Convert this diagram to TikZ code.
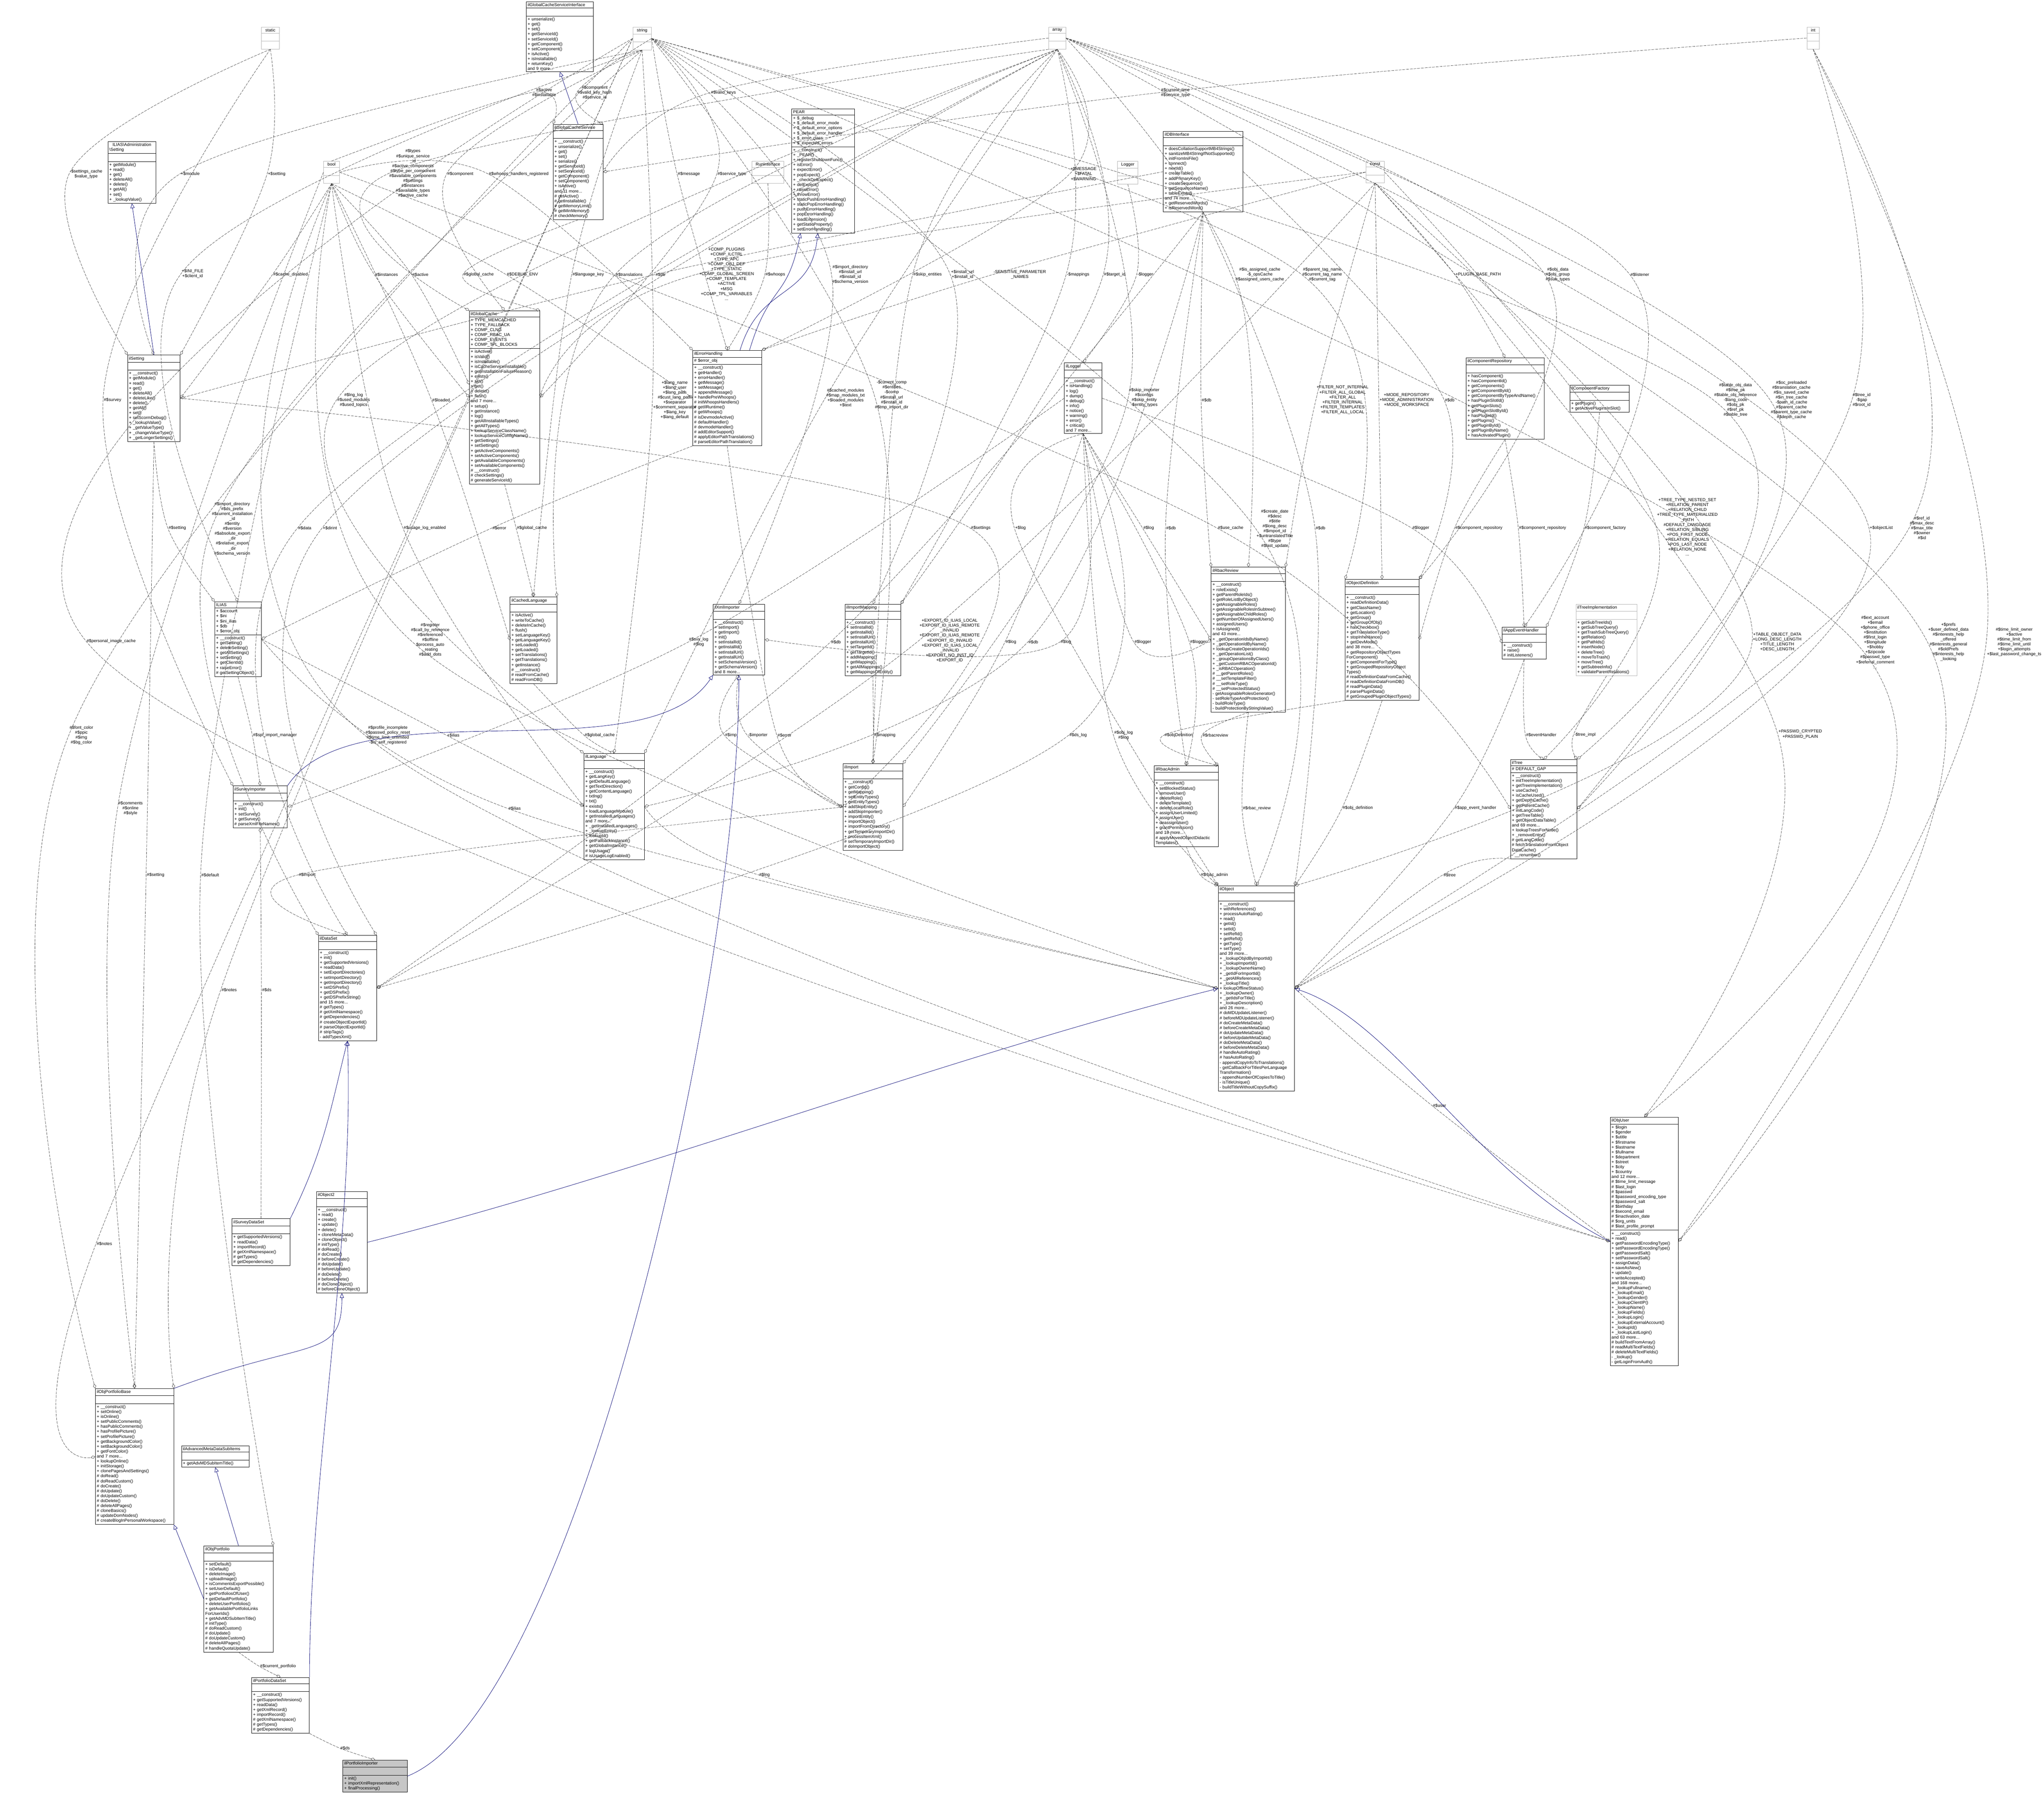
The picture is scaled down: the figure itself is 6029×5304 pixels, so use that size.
\documentclass[tikz,border=0pt]{standalone}
\usepackage{fontspec}
\newfontfamily\doxfont{Liberation Sans}
\usetikzlibrary{arrows.meta,shapes.multipart}

\tikzset{
  cls/.style={rectangle split, rectangle split parts=3, draw, line width=0.5pt,
    anchor=north west, align=left, inner sep=2pt, font=\doxfont\fontsize{6.3}{7.3}\selectfont},
  prim/.style={cls, draw=gray!60, align=center},
  lbl/.style={align=center, inner sep=1pt, font=\doxfont\fontsize{6.3}{7.3}\selectfont},
  use/.style={draw=black!75, line width=0.45pt, dash pattern=on 4pt off 1.5pt,
    -{Diamond[open,length=7pt,width=4.5pt]}},
  inh/.style={draw=blue!45!black, line width=0.5pt, -{Triangle[open,length=7pt,width=6pt]}}
}

\begin{document}
\begin{tikzpicture}[x=0.5pt,y=-0.5pt]
    \useasboundingbox (0,0) rectangle (6029,5304);

    % Types
    \node[prim, text width=23pt] (static) at (770,79) {static\nodepart{second}\strut\nodepart{third}\strut};
    \node[prim, text width=23.5pt] (string) at (1866,79) {string\nodepart{second}\strut\nodepart{third}\strut};
    \node[prim, text width=19.5pt] (bool) at (954,475) {bool\nodepart{second}\strut\nodepart{third}\strut};
    \node[prim, text width=21pt] (array) at (3093,79) {array\nodepart{second}\strut\nodepart{third}\strut};
    \node[prim, text width=14.5pt] (int) at (5329,79) {int\nodepart{second}\strut\nodepart{third}\strut};
    \node[prim, text width=23.5pt] (const) at (4028,475) {const\nodepart{second}\strut\nodepart{third}\strut};
    \node[prim, text width=43.5pt] (RunInterface) at (2217,475) {RunInterface\nodepart{second}\strut\nodepart{third}\strut};
    \node[prim, text width=26pt] (Logger) at (3296,475) {Logger\nodepart{second}\strut\nodepart{third}\strut};

    % Classes
    \node[cls, text width=95pt] (ilGCSI) at (1552,5) {\centering ilGlobalCacheServiceInterface\nodepart{second}\strut\nodepart{third}
      + unserialize()\\+ get()\\+ set()\\+ getServiceId()\\+ setServiceId()\\+ getComponent()\\+ setComponent()\\+ isActive()\\+ isInstallable()\\+ returnKey()\\and 9 more...};
    \node[cls, text width=69.5pt] (ilGCS) at (1631,366) {\centering ilGlobalCacheService\nodepart{second}\strut\nodepart{third}
      + \_\_construct()\\+ unserialize()\\+ get()\\+ set()\\+ serialize()\\+ getServiceId()\\+ setServiceId()\\+ getComponent()\\+ setComponent()\\+ isActive()\\and 11 more...\\\# getActive()\\\# getInstallable()\\\# getMemoryLimit()\\\# getMinMemory()\\\# checkMemory()};
    \node[cls, text width=66.5pt] (AdmSetting) at (318,417) {\centering ILIAS\textbackslash Administration\\\textbackslash Setting\nodepart{second}\strut\nodepart{third}
      + getModule()\\+ read()\\+ get()\\+ deleteAll()\\+ delete()\\+ getAll()\\+ set()\\+ \_lookupValue()};
    \node[cls, text width=73.5pt] (ilSetting) at (376,1047) {\centering ilSetting\nodepart{second}\strut\nodepart{third}
      + \_\_construct()\\+ getModule()\\+ read()\\+ get()\\+ deleteAll()\\+ deleteLike()\\+ delete()\\+ getAll()\\+ set()\\+ setScormDebug()\\+ \_lookupValue()\\+ \_getValueType()\\+ \_changeValueType()\\+ \_getLongerSettings()};
    \node[cls, text width=100pt] (ilGlobalCache) at (1384,916) {\centering ilGlobalCache\nodepart{second}
      + TYPE\_MEMCACHED\\+ TYPE\_FALLBACK\\+ COMP\_CLNG\\+ COMP\_RBAC\_UA\\+ COMP\_EVENTS\\+ COMP\_TPL\_BLOCKS\nodepart{third}
      + isActive()\\+ isValid()\\+ isInstallable()\\+ isCacheServiceInstallable()\\+ getInstallationFailureReason()\\+ exists()\\+ set()\\+ get()\\+ delete()\\+ flush()\\and 7 more...\\+ setup()\\+ getInstance()\\+ log()\\+ getAllInstallableTypes()\\+ getAllTypes()\\+ lookupServiceClassName()\\+ lookupServiceConfigName()\\+ getSettings()\\+ setSettings()\\+ getActiveComponents()\\+ setActiveComponents()\\+ getAvailableComponents()\\+ setAvailableComponents()\\\# \_\_construct()\\\# checkSettings()\\\# generateServiceId()};
    \node[cls, text width=88.5pt] (PEAR) at (2335,321) {\centering PEAR\nodepart{second}
      + \$\_debug\\+ \$\_default\_error\_mode\\+ \$\_default\_error\_options\\+ \$\_default\_error\_handler\\+ \$\_error\_class\\+ \$\_expected\_errors\nodepart{third}
      + \_\_construct()\\+ \_PEAR()\\+ registerShutdownFunc()\\+ isError()\\+ expectError()\\+ popExpect()\\+ \_checkDelExpect()\\+ delExpect()\\+ raiseError()\\+ throwError()\\+ staticPushErrorHandling()\\+ staticPopErrorHandling()\\+ pushErrorHandling()\\+ popErrorHandling()\\+ loadExtension()\\+ getStaticProperty()\\+ setErrorHandling()};
    \node[cls, text width=113.5pt] (ilDBInterface) at (3431,387) {\centering ilDBInterface\nodepart{second}\strut\nodepart{third}
      + doesCollationSupportMB4Strings()\\+ sanitizeMB4StringIfNotSupported()\\+ initFromIniFile()\\+ connect()\\+ nextId()\\+ createTable()\\+ addPrimaryKey()\\+ createSequence()\\+ getSequenceName()\\+ tableExists()\\and 74 more...\\+ getReservedWords()\\+ isReservedWord()};
    \node[cls, text width=97.5pt] (ilErrorHandling) at (2043,1033) {\centering ilErrorHandling\nodepart{second}
      \# \$error\_obj\nodepart{third}
      + \_\_construct()\\+ getHandler()\\+ errorHandler()\\+ getMessage()\\+ setMessage()\\+ appendMessage()\\+ handlePreWhoops()\\\# initWhoopsHandlers()\\\# getIlRuntime()\\\# getWhoops()\\\# isDevmodeActive()\\\# defaultHandler()\\\# devmodeHandler()\\\# addEditorSupport()\\\# applyEditorPathTranslations()\\\# parseEditorPathTranslation()};
    \node[cls, text width=51.5pt] (ilLogger) at (3139,1070) {\centering ilLogger\nodepart{second}\strut\nodepart{third}
      + \_\_construct()\\+ isHandling()\\+ log()\\+ dump()\\+ debug()\\+ info()\\+ notice()\\+ warning()\\+ error()\\+ critical()\\and 7 more...};
    \node[cls, text width=111pt] (ilCompRepo) at (4324,1055) {\centering ilComponentRepository\nodepart{second}\strut\nodepart{third}
      + hasComponent()\\+ hasComponentId()\\+ getComponents()\\+ getComponentById()\\+ getComponentByTypeAndName()\\+ hasPluginSlotId()\\+ getPluginSlots()\\+ getPluginSlotById()\\+ hasPluginId()\\+ getPlugins()\\+ getPluginById()\\+ getPluginByName()\\+ hasActivatedPlugin()};
    \node[cls, text width=83.5pt] (ilCompFactory) at (4630,1136) {\centering ilComponentFactory\nodepart{second}\strut\nodepart{third}
      + getPlugin()\\+ getActivePluginsInSlot()};
    \node[cls, text width=64.5pt] (ILIAS) at (633,1775) {\centering ILIAS\nodepart{second}
      + \$account\\+ \$ini\\+ \$ini\_ilias\\+ \$db\\+ \$error\_obj\nodepart{third}
      + \_\_construct()\\+ getSetting()\\+ deleteSetting()\\+ getAllSettings()\\+ setSetting()\\+ getClientId()\\+ raiseError()\\\# getSettingObject()};
    \node[cls, text width=65pt] (ilCachedLang) at (1504,1761) {\centering ilCachedLanguage\nodepart{second}\strut\nodepart{third}
      + isActive()\\+ writeToCache()\\+ deleteInCache()\\+ flush()\\+ setLanguageKey()\\+ getLanguageKey()\\+ setLoaded()\\+ getLoaded()\\+ setTranslations()\\+ getTranslations()\\+ getInstance()\\\# \_\_construct()\\\# readFromCache()\\\# readFromDB()};
    \node[cls, text width=76pt] (ilSurveyImp) at (687,2318) {\centering ilSurveyImporter\nodepart{second}\strut\nodepart{third}
      + \_\_construct()\\+ init()\\+ setSurvey()\\+ getSurvey()\\\# parseXmlFileNames()};
    \node[cls, text width=85pt] (ilLanguage) at (1722,2222) {\centering ilLanguage\nodepart{second}\strut\nodepart{third}
      + \_\_construct()\\+ getLangKey()\\+ getDefaultLanguage()\\+ getTextDirection()\\+ getContentLanguage()\\+ txtlng()\\+ txt()\\+ exists()\\+ loadLanguageModule()\\+ getInstalledLanguages()\\and 7 more...\\+ \_getInstalledLanguages()\\+ \_lookupEntry()\\+ lookupId()\\+ getFallbackInstance()\\+ getGlobalInstance()\\\# logUsage()\\\# isUsageLogEnabled()};
    \node[cls, text width=81.5pt] (ilDataSet) at (939,2759) {\centering ilDataSet\nodepart{second}\strut\nodepart{third}
      + \_\_construct()\\+ init()\\+ getSupportedVersions()\\+ readData()\\+ setExportDirectories()\\+ setImportDirectory()\\+ getImportDirectory()\\+ setDSPrefix()\\+ getDSPrefix()\\+ getDSPrefixString()\\and 15 more...\\\# getTypes()\\\# getXmlNamespace()\\\# getDependencies()\\\# createObjectExportId()\\\# parseObjectExportId()\\\# stripTags()\\- addTypesXml()};
    \node[cls, text width=72pt] (ilXmlImporter) at (2103,1782) {\centering ilXmlImporter\nodepart{second}\strut\nodepart{third}
      + \_\_construct()\\+ setImport()\\+ getImport()\\+ init()\\+ setInstallId()\\+ getInstallId()\\+ setInstallUrl()\\+ getInstallUrl()\\+ setSchemaVersion()\\+ getSchemaVersion()\\and 8 more...};
    \node[cls, text width=78pt] (ilImportMapping) at (2492,1782) {\centering ilImportMapping\nodepart{second}\strut\nodepart{third}
      + \_\_construct()\\+ setInstallId()\\+ getInstallId()\\+ setInstallUrl()\\+ getInstallUrl()\\+ setTargetId()\\+ getTargetId()\\+ addMapping()\\+ getMapping()\\+ getAllMappings()\\+ getMappingsOfEntity()};
    \node[cls, text width=84pt] (ilImport) at (2486,2253) {\centering ilImport\nodepart{second}\strut\nodepart{third}
      + \_\_construct()\\+ getConfig()\\+ getMapping()\\+ setEntityTypes()\\+ getEntityTypes()\\+ addSkipEntity()\\+ addSkipImporter()\\+ importEntity()\\+ importObject()\\+ importFromDirectory()\\+ getTemporaryImportDir()\\+ processItemXml()\\\# setTemporaryImportDir()\\\# doImportObject()};
    \node[cls, text width=105.5pt] (ilRbacReview) at (3572,1673) {\centering ilRbacReview\nodepart{second}\strut\nodepart{third}
      + \_\_construct()\\+ roleExists()\\+ getParentRoleIds()\\+ getRoleListByObject()\\+ getAssignableRoles()\\+ getAssignableRolesInSubtree()\\+ getAssignableChildRoles()\\+ getNumberOfAssignedUsers()\\+ assignedUsers()\\+ isAssigned()\\and 43 more...\\+ \_getOperationIdsByName()\\+ \_getOperationIdByName()\\+ lookupCreateOperationIds()\\+ \_getOperationList()\\+ \_groupOperationsByClass()\\+ \_getCustomRBACOperationId()\\+ \_isRBACOperation()\\\# \_\_getParentRoles()\\\# \_\_setTemplateFilter()\\\# \_\_setRoleType()\\\# \_\_setProtectedStatus()\\- getAssignableRolesGenerator()\\- setRoleTypeAndProtection()\\- buildRoleType()\\- buildProtectionByStringValue()};
    \node[cls, text width=105pt] (ilObjDef) at (3967,1709) {\centering ilObjectDefinition\nodepart{second}\strut\nodepart{third}
      + \_\_construct()\\+ readDefinitionData()\\+ getClassName()\\+ getLocation()\\+ getGroup()\\+ getGroupOfObj()\\+ hasCheckbox()\\+ getTranslationType()\\+ stopInheritance()\\+ getDevMode()\\and 38 more...\\+ getRepositoryObjectTypes\\ForComponent()\\+ getComponentForType()\\+ getGroupedRepositoryObject\\Types()\\\# readDefinitionDataFromCache()\\\# readDefinitionDataFromDB()\\\# readPluginData()\\\# parsePluginData()\\\# getGroupedPluginObjectTypes()};
    \node[cls, text width=61pt] (ilAppEvent) at (4430,1850) {\centering ilAppEventHandler\nodepart{second}\strut\nodepart{third}
      + \_\_construct()\\+ raise()\\\# initListeners()};
    \node[cls, draw=gray!60, text width=86pt] (ilTreeImpl) at (4648,1782) {\centering ilTreeImplementation\nodepart{second}\strut\nodepart{third}
      + getSubTreeIds()\\+ getSubTreeQuery()\\+ getTrashSubTreeQuery()\\+ getRelation()\\+ getPathIds()\\+ insertNode()\\+ deleteTree()\\+ moveToTrash()\\+ moveTree()\\+ getSubtreeInfo()\\+ validateParentRelations()};
    \node[cls, text width=94pt] (ilTree) at (4455,2240) {\centering ilTree\nodepart{second}
      \# DEFAULT\_GAP\nodepart{third}
      + \_\_construct()\\+ initTreeImplementation()\\+ getTreeImplementation()\\+ useCache()\\+ isCacheUsed()\\+ getDepthCache()\\+ getParentCache()\\+ initLangCode()\\+ getTreeTable()\\+ getObjectDataTable()\\and 69 more...\\+ lookupTreesForNode()\\+ \_removeEntry()\\\# getLangCode()\\\# fetchTranslationFromObject\\DataCache()\\- \_\_renumber()};
    \node[cls, text width=90.5pt] (ilRbacAdmin) at (3404,2259) {\centering ilRbacAdmin\nodepart{second}\strut\nodepart{third}
      + \_\_construct()\\+ setBlockedStatus()\\+ removeUser()\\+ deleteRole()\\+ deleteTemplate()\\+ deleteLocalRole()\\+ assignUserLimited()\\+ assignUser()\\+ deassignUser()\\+ grantPermission()\\and 18 more...\\\# applyMovedObjectDidactic\\Templates()};
    \node[cls, text width=108.5pt] (ilObject) at (3593,2613) {\centering ilObject\nodepart{second}\strut\nodepart{third}
      + \_\_construct()\\+ withReferences()\\+ processAutoRating()\\+ read()\\+ getId()\\+ setId()\\+ setRefId()\\+ getRefId()\\+ getType()\\+ setType()\\and 39 more...\\+ \_lookupObjIdByImportId()\\+ \_lookupImportId()\\+ \_lookupOwnerName()\\+ \_getIdForImportId()\\+ \_getAllReferences()\\+ \_lookupTitle()\\+ lookupOfflineStatus()\\+ \_lookupOwner()\\+ \_getIdsForTitle()\\+ \_lookupDescription()\\and 26 more...\\\# doMDUpdateListener()\\\# beforeMDUpdateListener()\\\# doCreateMetaData()\\\# beforeCreateMetaData()\\\# doUpdateMetaData()\\\# beforeUpdateMetaData()\\\# doDeleteMetaData()\\\# beforeDeleteMetaData()\\\# handleAutoRating()\\\# hasAutoRating()\\- appendCopyInfoToTranslations()\\- getCallbackForTitlesPerLanguage\\Transformation()\\- appendNumberOfCopiesToTitle()\\- isTitleUnique()\\- buildTitleWithoutCopySuffix()};
    \node[cls, text width=96.5pt] (ilObjUser) at (4749,3295) {\centering ilObjUser\nodepart{second}
      + \$login\\+ \$gender\\+ \$utitle\\+ \$firstname\\+ \$lastname\\+ \$fullname\\+ \$department\\+ \$street\\+ \$city\\+ \$country\\and 12 more...\\\# \$time\_limit\_message\\\# \$last\_login\\\# \$passwd\\\# \$password\_encoding\_type\\\# \$password\_salt\\\# \$birthday\\\# \$second\_email\\\# \$inactivation\_date\\\# \$org\_units\\\# \$last\_profile\_prompt\nodepart{third}
      + \_\_construct()\\+ read()\\+ getPasswordEncodingType()\\+ setPasswordEncodingType()\\+ getPasswordSalt()\\+ setPasswordSalt()\\+ assignData()\\+ saveAsNew()\\+ update()\\+ writeAccepted()\\and 168 more...\\+ \_lookupFullname()\\+ \_lookupEmail()\\+ \_lookupGender()\\+ \_lookupClientIP()\\+ \_lookupName()\\+ \_lookupFields()\\+ \_lookupLogin()\\+ \_lookupExternalAccount()\\+ \_lookupId()\\+ \_lookupLastLogin()\\and 63 more...\\\# buildTextFromArray()\\\# readMultiTextFields()\\\# deleteMultiTextFields()\\- \_lookup()\\- getLoginFromAuth()};
    \node[cls, text width=81.5pt] (ilSurveyDS) at (684,3595) {\centering ilSurveyDataSet\nodepart{second}\strut\nodepart{third}
      + getSupportedVersions()\\+ readData()\\+ importRecord()\\\# getXmlNamespace()\\\# getTypes()\\\# getDependencies()};
    \node[cls, text width=71pt] (ilObject2) at (933,3515) {\centering ilObject2\nodepart{second}\strut\nodepart{third}
      + \_\_construct()\\+ read()\\+ create()\\+ update()\\+ delete()\\+ cloneMetaData()\\+ cloneObject()\\\# initType()\\\# doRead()\\\# doCreate()\\\# beforeCreate()\\\# doUpdate()\\\# beforeUpdate()\\\# doDelete()\\\# beforeDelete()\\\# doCloneObject()\\\# beforeCloneObject()};
    \node[cls, text width=111.5pt] (ilObjPortBase) at (281,4096) {\centering ilObjPortfolioBase\nodepart{second}\strut\nodepart{third}
      + \_\_construct()\\+ setOnline()\\+ isOnline()\\+ setPublicComments()\\+ hasPublicComments()\\+ hasProfilePicture()\\+ setProfilePicture()\\+ getBackgroundColor()\\+ setBackgroundColor()\\+ getFontColor()\\and 7 more...\\+ lookupOnline()\\+ initStorage()\\+ clonePagesAndSettings()\\\# doRead()\\\# doReadCustom()\\\# doCreate()\\\# doUpdate()\\\# doUpdateCustom()\\\# doDelete()\\\# deleteAllPages()\\\# cloneBasics()\\\# updateDomNodes()\\\# createBlogInPersonalWorkspace()};
    \node[cls, text width=95.5pt] (ilAdvMD) at (535,4265) {\centering ilAdvancedMetaDataSubItems\nodepart{second}\strut\nodepart{third}
      + getAdvMDSubItemTitle()};
    \node[cls, text width=98pt] (ilObjPort) at (601,4560) {\centering ilObjPortfolio\nodepart{second}\strut\nodepart{third}
      + setDefault()\\+ isDefault()\\+ deleteImage()\\+ uploadImage()\\+ isCommentsExportPossible()\\+ setUserDefault()\\+ getPortfoliosOfUser()\\+ getDefaultPortfolio()\\+ deleteUserPortfolios()\\+ getAvailablePortfolioLinks\\ForUserIds()\\+ getAdvMDSubItemTitle()\\\# initType()\\\# doReadCustom()\\\# doUpdate()\\\# doUpdateCustom()\\\# deleteAllPages()\\\# handleQuotaUpdate()};
    \node[cls, text width=81pt] (ilPortDS) at (742,4948) {\centering ilPortfolioDataSet\nodepart{second}\strut\nodepart{third}
      + \_\_construct()\\+ getSupportedVersions()\\+ readData()\\+ getXmlRecord()\\+ importRecord()\\\# getXmlNamespace()\\\# getTypes()\\\# getDependencies()};
    \node[cls, fill=gray!45, text width=91pt] (ilPortImp) at (1011,5192) {\centering ilPortfolioImporter\nodepart{second}\strut\nodepart{third}
      + init()\\+ importXmlRepresentation()\\+ finalProcessing()};

    % Labels
    \node[lbl] (lSetCache) at (254,513) {-\$settings\_cache\\\$value\_type};
    \node[lbl] (lModule) at (561,513) {+\$module};
    \node[lbl] (lSettingP) at (816,513) {+\$setting};
    \node[lbl] (lTypes) at (1218,512) {\#\$types\\\#\$unique\_service\\\_id\\\#\$active\_components\\\#\$type\_per\_component\\\#\$available\_components\\\#\$settings\\\#\$instances\\\#\$available\_types\\\#\$active\_cache};
    \node[lbl] (lCompGC) at (1358,513) {\#\$component};
    \node[lbl] (lWhoopsReg) at (1530,513) {\#\$whoops\_handlers\_registered};
    \node[lbl] (lActiveInst) at (1605,273) {\#\$active\\\#\$installable};
    \node[lbl] (lCompKey) at (1754,273) {\#\$component\\\#\$valid\_key\_hash\\\#\$service\_id};
    \node[lbl] (lIniFile) at (568,808) {+\$INI\_FILE\\+\$client\_id};
    \node[lbl] (lCacheDis) at (857,810) {\#\$cache\_disabled};
    \node[lbl] (lInstances) at (1140,810) {\#\$instances};
    \node[lbl] (lActiveGC) at (1240,810) {\#\$active};
    \node[lbl] (lGCacheA) at (1412,810) {\#\$global\_cache};
    \node[lbl] (lDebugEnv) at (1541,810) {\#\$DEBUG\_ENV};
    \node[lbl] (lLangKey) at (1735,810) {\#\$language\_key};
    \node[lbl] (lTranslations) at (1856,810) {\#\$translations};
    \node[lbl] (lDbSetting) at (1948,810) {\#\$db};
    \node[lbl] (lSurvey) at (332,1180) {\#\$survey};
    \node[lbl] (lLngLog) at (1043,1180) {\#\$lng\_log\\\#\$used\_modules\\\#\$used\_topics};
    \node[lbl] (lLoaded) at (1301,1180) {\#\$loaded};
    \node[lbl] (lLangName) at (1990,1180) {+\$lang\_name\\+\$lang\_user\\+\$lang\_path\\\#\$cust\_lang\_path\\+\$separator\\+\$comment\_separator\\+\$lang\_key\\+\$lang\_default};
    \node[lbl] (lImportDir) at (685,1560) {\#\$import\_directory\\\#\$ds\_prefix\\\#\$current\_installation\\\_id\\\#\$entity\\\#\$version\\\#\$absolute\_export\\\_dir\\\#\$relative\_export\\\_dir\\\#\$schema\_version};
    \node[lbl] (lSettingIL) at (523,1558) {\#\$setting};
    \node[lbl] (lData) at (899,1558) {\#\$data};
    \node[lbl] (lDirint) at (973,1558) {+\$dirint};
    \node[lbl] (lUsageLog) at (1253,1558) {\#\$usage\_log\_enabled};
    \node[lbl] (lErrorIL) at (1473,1558) {\#\$error};
    \node[lbl] (lGCacheB) at (1569,1558) {\#\$global\_cache};
    \node[lbl] (lValidKeys) at (2134,273) {\#\$valid\_keys};
    \node[lbl] (lCurTime) at (3467,273) {\#\$current\_time\\\#\$service\_type};
    \node[lbl] (lMessage) at (2032,513) {\#\$message};
    \node[lbl] (lServiceType) at (2159,513) {\#\$service\_type};
    \node[lbl] (lMsgFatal) at (3196,513) {+\$MESSAGE\\+\$FATAL\\+\$WARNING};
    \node[lbl] (lCompPlugins) at (2143,808) {+COMP\_PLUGINS\\+COMP\_ILCTRL\\+TYPE\_APC\\+COMP\_OBJ\_DEF\\+TYPE\_STATIC\\+COMP\_GLOBAL\_SCREEN\\+COMP\_TEMPLATE\\+ACTIVE\\+MSG\\+COMP\_TPL\_VARIABLES\\...};
    \node[lbl] (lWhoops) at (2287,810) {\#\$whoops};
    \node[lbl] (lImpDirX) at (2508,810) {\#\$import\_directory\\\#\$install\_url\\\#\$install\_id\\\#\$schema\_version};
    \node[lbl] (lSkipEnt) at (2736,810) {\#\$skip\_entities};
    \node[lbl] (lInstUrl) at (2839,810) {+\$install\_url\\+\$install\_id};
    \node[lbl] (lSensitive) at (3008,810) {-SENSITIVE\_PARAMETER\\\_NAMES};
    \node[lbl] (lMappings) at (3180,810) {-\$mappings};
    \node[lbl] (lTargetId) at (3288,810) {\#\$target\_id};
    \node[lbl] (lLoggerL) at (3378,810) {-\$logger};
    \node[lbl] (lAssigned) at (3716,810) {\#\$is\_assigned\_cache\\-\$\_opsCache\\\#\$assigned\_users\_cache};
    \node[lbl] (lParentTag) at (3900,810) {\#\$parent\_tag\_name\\\#\$current\_tag\_name\\\#\$current\_tag};
    \node[lbl] (lCachedMods) at (2494,1173) {\#\$cached\_modules\\\#\$map\_modules\_txt\\+\$loaded\_modules\\+\$text};
    \node[lbl] (lCurComp) at (2630,1165) {-\$current\_comp\\\#\$entities\\-\$comp\\\#\$install\_url\\\#\$install\_id\\\#\$tmp\_import\_dir};
    \node[lbl] (lSkipImp) at (3375,1173) {\#\$skip\_importer\\\#\$configs\\\#\$skip\_entity\\-\$entity\_types};
    \node[lbl] (lDbRR) at (3559,1180) {\#\$db};
    \node[lbl] (lFilter) at (3960,1180) {+FILTER\_NOT\_INTERNAL\\+FILTER\_ALL\_GLOBAL\\+FILTER\_ALL\\+FILTER\_INTERNAL\\+FILTER\_TEMPLATES\\+FILTER\_ALL\_LOCAL};
    \node[lbl] (lSettingsImp) at (2893,1558) {\#\$settings};
    \node[lbl] (lLogObj) at (3010,1558) {+\$log};
    \node[lbl] (lLogRR) at (3388,1558) {\#\$log};
    \node[lbl] (lDbRA) at (3454,1558) {\#\$db};
    \node[lbl] (lUseCache) at (3630,1558) {\#\$use\_cache};
    \node[lbl] (lCreateDate) at (3760,1560) {\#\$create\_date\\\#\$desc\\\#\$title\\\#\$long\_desc\\\#\$import\_id\\+\$untranslatedTitle\\\#\$type\\\#\$last\_update};
    \node[lbl] (lDbObj) at (3895,1558) {\#\$db};
    \node[lbl] (lPluginBase) at (4360,810) {+PLUGIN\_BASE\_PATH};
    \node[lbl] (lObjData) at (4595,810) {\#\$obj\_data\\\#\$obj\_group\\\#\$sub\_types};
    \node[lbl] (lListener) at (4837,810) {\#\$listener};
    \node[lbl] (lModeRepo) at (4149,1180) {+MODE\_REPOSITORY\\+MODE\_ADMINISTRATION\\+MODE\_WORKSPACE};
    \node[lbl] (lDbOD) at (4276,1180) {\#\$db};
    \node[lbl] (lTableObj) at (5119,1180) {\#\$table\_obj\_data\\\#\$tree\_pk\\\#\$table\_obj\_reference\\-\$lang\_code\\\#\$obj\_pk\\\#\$ref\_pk\\\#\$table\_tree};
    \node[lbl] (lOcPre) at (5284,1180) {\#\$oc\_preloaded\\\#\$translation\_cache\\\#\$is\_saved\_cache\\\#\$in\_tree\_cache\\-\$path\_id\_cache\\\#\$parent\_cache\\\#\$parent\_type\_cache\\\#\$depth\_cache};
    \node[lbl] (lTreeId) at (5491,1180) {\#\$tree\_id\\-\$gap\\\#\$root\_id};
    \node[lbl] (lLoggerAEH) at (4191,1558) {\#\$logger};
    \node[lbl] (lCompRepoA) at (4362,1558) {\#\$component\_repository};
    \node[lbl] (lCompRepoB) at (4550,1558) {\#\$component\_repository};
    \node[lbl] (lCompFact) at (4735,1558) {\#\$component\_factory};
    \node[lbl] (lTreeType) at (4977,1555) {+TREE\_TYPE\_NESTED\_SET\\+RELATION\_PARENT\\+RELATION\_CHILD\\+TREE\_TYPE\_MATERIALIZED\\\_PATH\\\#DEFAULT\_LANGUAGE\\+RELATION\_SIBLING\\+POS\_FIRST\_NODE\\+RELATION\_EQUALS\\+POS\_LAST\_NODE\\+RELATION\_NONE\\...};
    \node[lbl] (lObjectList) at (5549,1558) {+\$objectList};
    \node[lbl] (lRefId) at (5669,1558) {\#\$ref\_id\\\#\$max\_desc\\\#\$max\_title\\\#\$owner\\\#\$id};
    \node[lbl] (lPersImg) at (328,1891) {\#\$personal\_image\_cache};
    \node[lbl] (lRegister) at (1269,1888) {\#\$register\\\#\$call\_by\_reference\\\#\$referenced\\\#\$offline\\\$process\_auto\\\_reating\\\#\$add\_dots};
    \node[lbl] (lFontColor) at (240,2169) {\#\$font\_color\\\#\$ppic\\\#\$img\\\#\$bg\_color};
    \node[lbl] (lSplImp) at (811,2169) {\#\$spl\_import\_manager};
    \node[lbl] (lProfileInc) at (1144,2169) {\#\$profile\_incomplete\\\#\$passwd\_policy\_reset\\\#\$time\_limit\_unlimited\\-\$is\_self\_registered};
    \node[lbl] (lIliasA) at (1337,2169) {+\$ilias};
    \node[lbl] (lGCacheC) at (1769,2169) {\#\$global\_cache};
    \node[lbl] (lComments) at (385,2385) {\#\$comments\\\#\$online\\\#\$style};
    \node[lbl] (lIliasB) at (1518,2385) {\#\$ilias};
    \node[lbl] (lSettingPB) at (459,2581) {\#\$setting};
    \node[lbl] (lDefault) at (620,2581) {\#\$default};
    \node[lbl] (lImport) at (906,2581) {\#\$import};
    \node[lbl] (lNotesA) at (676,2920) {\#\$notes};
    \node[lbl] (lDsSvy) at (787,2920) {\#\$ds};
    \node[lbl] (lSvyLog) at (2061,1894) {\#\$svy\_log\\\#\$log};
    \node[lbl] (lDbDS) at (2466,1894) {\#\$db};
    \node[lbl] (lExportId) at (2801,1890) {+EXPORT\_ID\_ILIAS\_LOCAL\\+EXPORT\_ID\_ILIAS\_REMOTE\\\_INVALID\\+EXPORT\_ID\_ILIAS\_REMOTE\\+EXPORT\_ID\_INVALID\\+EXPORT\_ID\_ILIAS\_LOCAL\\\_INVALID\\+EXPORT\_NO\_INST\_ID\\+EXPORT\_ID};
    \node[lbl] (lLogImp) at (2982,1894) {\#\$log};
    \node[lbl] (lDbLng) at (3048,1894) {\#\$db};
    \node[lbl] (lLogXml) at (3144,1894) {\#\$log};
    \node[lbl] (lLoggerRR) at (3371,1894) {\#\$logger};
    \node[lbl] (lLoggerRA) at (3535,1894) {\#\$logger};
    \node[lbl] (lImp) at (2156,2169) {\#\$imp};
    \node[lbl] (lImporter) at (2235,2169) {-\$importer};
    \node[lbl] (lErrorImp) at (2314,2169) {\#\$error};
    \node[lbl] (lMapping) at (2610,2169) {\#\$mapping};
    \node[lbl] (lDsLog) at (3180,2169) {\#\$ds\_log};
    \node[lbl] (lObjLog) at (3314,2169) {\#\$obj\_log\\\#\$log};
    \node[lbl] (lObjDef) at (3477,2169) {\#\$objDefinition};
    \node[lbl] (lRbacRev) at (3585,2169) {\#\$rbacreview};
    \node[lbl] (lEventHandler) at (4546,2168) {\#\$eventHandler};
    \node[lbl] (lTreeImpl) at (4675,2168) {-\$tree\_impl};
    \node[lbl] (lTableObjData) at (5242,1894) {+TABLE\_OBJECT\_DATA\\+LONG\_DESC\_LENGTH\\+TITLE\_LENGTH\\+DESC\_LENGTH};
    \node[lbl] (lExtAccount) at (5531,1894) {\#\$ext\_account\\+\$email\\+\$phone\_office\\+\$institution\\\#\$first\_login\\+\$longitude\\+\$hobby\\+\$zipcode\\\#\$passwd\_type\\+\$referral\_comment\\...};
    \node[lbl] (lPrefs) at (5747,1894) {+\$prefs\\+\$user\_defined\_data\\\#\$interests\_help\\\_offered\\\#\$interests\_general\\\#\$oldPrefs\\\#\$interests\_help\\\_looking};
    \node[lbl] (lTimeLimit) at (5941,1894) {\#\$time\_limit\_owner\\+\$active\\\#\$time\_limit\_from\\\#\$time\_limit\_until\\+\$login\_attempts\\+\$last\_password\_change\_ts};
    \node[lbl] (lPasswd) at (5310,2166) {+PASSWD\_CRYPTED\\+PASSWD\_PLAIN};
    \node[lbl] (lRbacReview) at (3707,2385) {\#\$rbac\_review};
    \node[lbl] (lObjDefinition) at (4005,2384) {\#\$obj\_definition};
    \node[lbl] (lAppEvent) at (4352,2384) {\#\$app\_event\_handler};
    \node[lbl] (lLng) at (2255,2581) {\#\$lng};
    \node[lbl] (lRbacAdmin) at (3582,2581) {\#\$rbac\_admin};
    \node[lbl] (lTree) at (4276,2581) {\#\$tree};
    \node[lbl] (lUser) at (4246,3262) {\#\$user};
    \node[lbl] (lNotesB) at (308,3669) {\#\$notes};
    \node[lbl] (lCurPort) at (820,4916) {\#\$current\_portfolio};
    \node[lbl] (lDsPort) at (1018,5157) {\#\$ds};

    % Member links
    \foreach \src/\via/\dst in {
      static.south/lSetCache/ilSetting.north west, string.south/lModule/ilSetting.north,
      static.south/lSettingP/ilSetting.north east, array.south west/lTypes/ilGlobalCache.north west,
      string.south/lCompGC/ilGlobalCache.north, bool.east/lWhoopsReg/ilErrorHandling.north west,
      bool.north/lActiveInst/ilGCS.north west, string.east/lCompKey/ilGCS.north east,
      string.south/lIniFile/ILIAS.north, bool.south/lCacheDis/ilSetting.east,
      bool.south/lInstances/ilGlobalCache.west, bool.south/lActiveGC/ilGlobalCache.160,
      ilGCS.south/lGCacheA/ilGlobalCache.north east, bool.south/lDebugEnv/ilErrorHandling.west,
      string.south/lLangKey/ilCachedLang.north, array.south/lTranslations/ilCachedLang.north east,
      ilDBInterface.west/lDbSetting/ilSetting.east, static.south/lSurvey/ilSurveyImp.north west,
      array.south/lLngLog/ilLanguage.north west, bool.south/lLoaded/ilCachedLang.west,
      string.south/lLangName/ilLanguage.north, string.south/lImportDir/ilDataSet.north west,
      ilSetting.south/lSettingIL/ILIAS.north west, array.south/lData/ilDataSet.north,
      array.south/lDirint/ilDataSet.north east, bool.south/lUsageLog/ilLanguage.west,
      ilErrorHandling.south west/lErrorIL/ILIAS.east, ilGlobalCache.south/lGCacheB/ilCachedLang.north,
      array.west/lValidKeys/ilGCS.east, int.west/lCurTime/ilGCS.east,
      string.east/lMessage/ilErrorHandling.north, string.east/lServiceType/ilGlobalCache.east,
      array.south/lMsgFatal/ilErrorHandling.north east, const.west/lCompPlugins/ilGlobalCache.east,
      RunInterface.south/lWhoops/ilErrorHandling.north, string.east/lImpDirX/ilXmlImporter.north,
      array.south/lSkipEnt/ilImport.north, string.east/lInstUrl/ilImportMapping.north,
      const.west/lSensitive/ilErrorHandling.north east, array.south/lMappings/ilImportMapping.north east,
      array.south/lTargetId/ilImportMapping.north east, Logger.south/lLoggerL/ilLogger.north,
      array.east/lAssigned/ilRbacReview.north, string.east/lParentTag/ilObjDef.north west,
      array.south/lCachedMods/ilLanguage.north east, string.east/lCurComp/ilImport.north,
      array.south/lSkipImp/ilImport.north east, ilDBInterface.south/lDbRR/ilRbacReview.north west,
      const.south/lFilter/ilRbacReview.north east, ilSetting.east/lSettingsImp/ilImport.west,
      ilLogger.south/lLogObj/ilObject.north west, ilLogger.south/lLogRR/ilRbacReview.west,
      ilDBInterface.south/lDbRA/ilRbacAdmin.north, bool.east/lUseCache/ilTree.west,
      string.east/lCreateDate/ilObject.north, ilDBInterface.south/lDbObj/ilObject.north east,
      const.south/lPluginBase/ilCompRepo.north, array.east/lObjData/ilObjDef.north east,
      array.east/lListener/ilAppEvent.north, const.south/lModeRepo/ilObjDef.north,
      ilDBInterface.east/lDbOD/ilObjDef.north east, string.east/lTableObj/ilTree.north east,
      array.east/lOcPre/ilTree.east, int.south/lTreeId/ilTree.east,
      ilLogger.east/lLoggerAEH/ilAppEvent.west, ilCompRepo.south/lCompRepoA/ilObjDef.east,
      ilCompRepo.south/lCompRepoB/ilAppEvent.north, ilCompFactory.south/lCompFact/ilAppEvent.north east,
      const.east/lTreeType/ilTree.north, array.east/lObjectList/ilObject.east,
      int.south/lRefId/ilObject.east, string.west/lPersImg/ilObjUser.west,
      bool.south/lRegister/ilObject.west, string.west/lFontColor/ilObjPortBase.north west,
      ILIAS.south/lSplImp/ilSurveyImp.north, bool.south/lProfileInc/ilObjUser.west,
      ILIAS.east/lIliasA/ilLanguage.west, ilCachedLang.south/lGCacheC/ilLanguage.north,
      bool.west/lComments/ilObjPortBase.north, ilSetting.south/lSettingPB/ilObjPortBase.north,
      bool.south/lDefault/ilObjPort.north east, ilImport.west/lImport/ilDataSet.north,
      string.west/lNotesA/ilObjPortBase.north east, ilSurveyDS.north/lDsSvy/ilSurveyImp.south,
      ILIAS.east/lIliasB/ilObject.west, ilLogger.west/lSvyLog/ilSurveyImp.east,
      ilDBInterface.south/lDbDS/ilDataSet.east, const.south/lExportId/ilDataSet.east,
      ilLogger.south/lLogImp/ilImport.east, ilDBInterface.south/lDbLng/ilLanguage.east,
      ilLogger.south/lLogXml/ilXmlImporter.east, ilLogger.south/lLoggerRR/ilRbacReview.west,
      ilLogger.south/lLoggerRA/ilRbacAdmin.north, ilImport.west/lImp/ilXmlImporter.south,
      ilXmlImporter.south/lImporter/ilImport.west, ilErrorHandling.south/lErrorImp/ilImport.west,
      ilImportMapping.south/lMapping/ilImport.north, ilLogger.south/lDsLog/ilDataSet.east,
      ilLogger.south/lObjLog/ilObject.north west, ilObjDef.south west/lObjDef/ilRbacAdmin.north east,
      ilRbacReview.south/lRbacRev/ilRbacAdmin.north east, ilLanguage.east/lLng/ilObject.west,
      ilRbacReview.south/lRbacReview/ilObject.north, ilObjDef.south/lObjDefinition/ilObject.north east,
      ilRbacAdmin.south/lRbacAdmin/ilObject.north west, ilAppEvent.south/lAppEvent/ilObject.east,
      ilAppEvent.south/lEventHandler/ilTree.north, ilTreeImpl.south/lTreeImpl/ilTree.north east,
      ilTree.south west/lTree/ilObject.east, const.south/lTableObjData/ilObject.north east,
      string.east/lExtAccount/ilObjUser.north, array.east/lPrefs/ilObjUser.east,
      int.south/lTimeLimit/ilObjUser.east, const.south/lPasswd/ilObjUser.north,
      ilObject.east/lUser/ilObjUser.west, ilObjPort.south/lCurPort/ilPortDS.north,
      ilPortDS.south east/lDsPort/ilPortImp.north, string.west/lNotesB/ilObjPortBase.west}
      \draw[use] plot[smooth, tension=0.6] coordinates {(\src) (\via.west) (\dst)};

    % Inheritance
    \draw[inh] (ilGCS.north) -- (ilGCSI.south);
    \draw[inh] (ilSetting.north) -- (AdmSetting.south);
    \draw[inh] (ilErrorHandling.65) .. controls +(60,-200) and +(-40,200) .. (PEAR.250);
    \draw[inh] (ilErrorHandling.75) .. controls +(60,-200) and +(-20,200) .. (PEAR.265);
    \draw[inh] (ilSurveyImp.north east) .. controls +(200,-300) and +(-200,300) .. (ilXmlImporter.south west);
    \draw[inh] (ilPortImp.east) .. controls +(500,-200) and +(0,900) .. (ilXmlImporter.south);
    \draw[inh] (ilSurveyDS.north east) .. controls +(100,-200) and +(-50,200) .. (ilDataSet.south);
    \draw[inh] (ilPortDS.north east) .. controls +(0,-600) and +(20,600) .. (ilDataSet.south);
    \draw[inh] (ilObjPortBase.north east) .. controls +(400,-150) and +(0,200) .. (ilObject2.south);
    \draw[inh] (ilObject2.east) .. controls +(800,-200) and +(-800,200) .. (ilObject.west);
    \draw[inh] (ilObjPort.west) -- (ilObjPortBase.south east);
    \draw[inh] (ilObjPort.north) -- (ilAdvMD.south);
    \draw[inh] (ilObjUser.west) .. controls +(-400,-200) and +(300,100) .. (ilObject.east);
\end{tikzpicture}
\end{document}
